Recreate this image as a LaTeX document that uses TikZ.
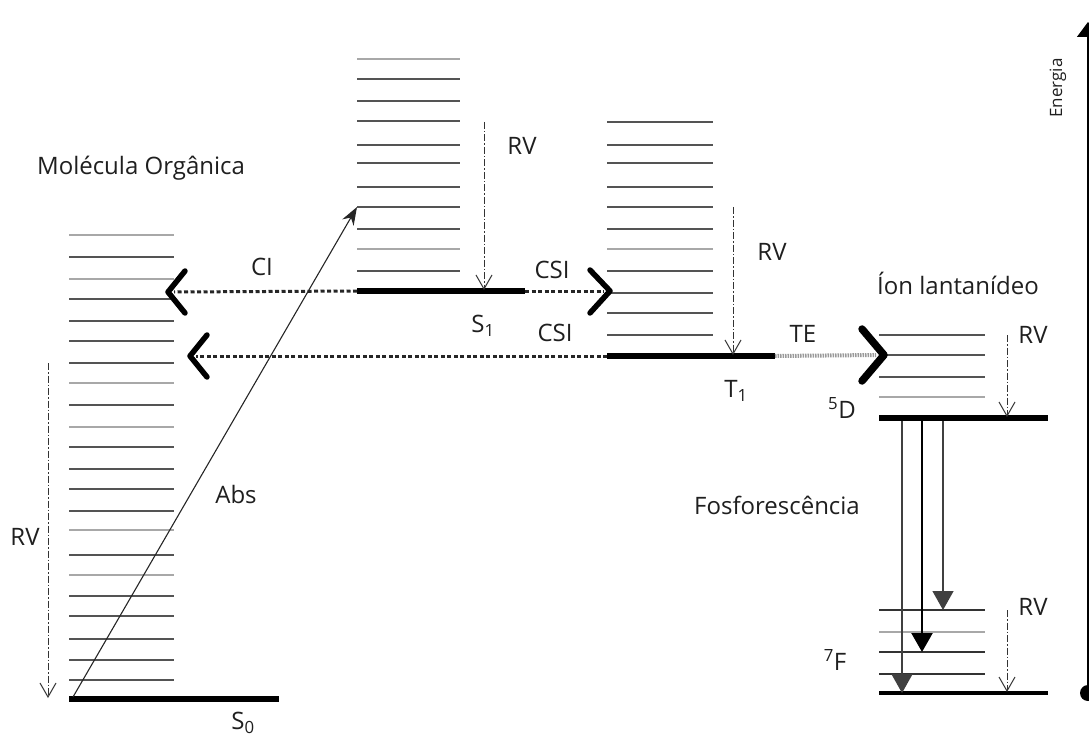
\documentclass[tikz,border=0pt]{standalone}
\usepackage{fontspec}
\setmainfont{Open Sans}
\usetikzlibrary{arrows.meta}
\definecolor{levdark}{gray}{0.33}
\definecolor{levlight}{gray}{0.66}
\definecolor{txt}{gray}{0.12}
\begin{document}
\begin{tikzpicture}[x=1pt,y=-1pt,
  lvl/.style={line width=2.6pt, draw=levdark},
  lvllight/.style={line width=2.6pt, draw=levlight},
  ground/.style={line width=5.5pt, draw=black},
  lbl/.style={font=\fontsize{24}{28}\selectfont, text=txt, inner sep=0pt},
  rv/.style={line width=1pt, draw=black!80, dash pattern=on 7pt off 2pt on 1.5pt off 2pt, -{Straight Barb[length=14pt,width=16pt,line width=1pt]}},
  isc/.style={line width=3pt, dash pattern=on 4pt off 2.5pt, draw=black!85},
  te/.style={line width=4pt, dash pattern=on 1.5pt off 1pt, draw=black!40},
  chev/.style={line width=5.5pt, line cap=round, line join=round, draw=black},
  emis/.style={line width=1.3pt, draw=black!75, -{Triangle[length=19pt,width=21pt]}},
  absarrow/.style={line width=1.1pt, draw=black!85, -{Stealth[length=18pt,width=13pt]}},
]
\useasboundingbox (0,0) rectangle (1089,738);
% ---- organic molecule S0 vibrational levels
\foreach \y in {257,299,321,341,363,405,447,469,489,511,555,596,616,639,660,680}
  \draw[lvl] (69,\y) -- (174,\y);
\foreach \y in {235,279,383,427,530,575}
  \draw[lvllight] (69,\y) -- (174,\y);
\coordinate (s0L) at (69,699);
\coordinate (s0R) at (279,699);
\draw[ground] (s0L) -- (s0R);
% ---- S1 levels
\foreach \y in {79,101,121,145,163,187,207,229,271}
  \draw[lvl] (357,\y) -- (460,\y);
\foreach \y in {59,249}
  \draw[lvllight] (357,\y) -- (460,\y);
\coordinate (s1L) at (357,291);
\coordinate (s1R) at (525,291);
\draw[ground] (s1L) -- (s1R);
% ---- T1 levels
\foreach \y in {122,145,163,187,207,229,271,293,313,335}
  \draw[lvl] (607,\y) -- (713,\y);
\foreach \y in {249}
  \draw[lvllight] (607,\y) -- (713,\y);
\coordinate (t1L) at (607,356);
\coordinate (t1R) at (775,356);
\draw[ground] (t1L) -- (t1R);
% ---- 5D levels
\foreach \y in {335,355,377}
  \draw[lvl] (879,\y) -- (985,\y);
\draw[lvllight] (879,397) -- (985,397);
\coordinate (dL) at (879,418);
\coordinate (dR) at (1048,418);
\draw[ground] (dL) -- (dR);
% ---- 7F levels
\foreach \y in {610,652,674}
  \draw[lvl, draw=black!80, line width=2.2pt] (879,\y) -- (985,\y);
\draw[lvllight, line width=2.2pt] (879,632) -- (985,632);
\coordinate (fL) at (879,693);
\coordinate (fR) at (1048,693);
\draw[line width=3.2pt] (fL) -- (fR);
% ---- absorption
\coordinate (absS) at (73,697);
\coordinate (absE) at (357,207);
\draw[absarrow] (absS) -- (absE);
% ---- chevrons and crossings
\coordinate (ciTip) at (168,292);
\coordinate (csi2Tip) at (190,356);
\coordinate (csiTip) at (610,291);
\coordinate (teTip) at (884,355);
\draw[isc] (s1L) -- ([xshift=6pt]ciTip);
\draw[isc] (t1L) -- ([xshift=6pt]csi2Tip);
\draw[isc] (s1R) -- ([xshift=-6pt]csiTip);
\draw[te] (t1R) -- ([xshift=-8pt]teTip);
\draw[chev] ([shift={(17,-21)}]ciTip) -- (ciTip) -- ([shift={(17,21)}]ciTip);
\draw[chev] ([shift={(17,-21)}]csi2Tip) -- (csi2Tip) -- ([shift={(17,21)}]csi2Tip);
\draw[chev] ([shift={(-20,-21)}]csiTip) -- (csiTip) -- ([shift={(-20,22)}]csiTip);
\draw[chev, line width=7.5pt] ([shift={(-22,-26)}]teTip) -- (teTip) -- ([shift={(-22,26)}]teTip);
% ---- vibrational relaxation
\coordinate (rvA1) at (48,363);   \coordinate (rvA2) at (48,698);
\coordinate (rvB1) at (484,122);  \coordinate (rvB2) at (484,290);
\coordinate (rvC1) at (733,207);  \coordinate (rvC2) at (733,355);
\coordinate (rvD1) at (1007,335); \coordinate (rvD2) at (1007,417);
\coordinate (rvE1) at (1007,610); \coordinate (rvE2) at (1007,692);
\draw[rv] (rvA1) -- (rvA2);
\draw[rv] (rvB1) -- (rvB2);
\draw[rv] (rvC1) -- (rvC2);
\draw[rv] (rvD1) -- (rvD2);
\draw[rv] (rvE1) -- (rvE2);
% ---- emission
\coordinate (em1s) at (943,421); \coordinate (em1e) at (943,610);
\coordinate (em2s) at (922,421); \coordinate (em2e) at (922,652);
\coordinate (em3s) at (902,421); \coordinate (em3e) at (902,693);
\draw[emis] (em1s) -- (em1e);
\draw[emis, line width=2.3pt, draw=black] (em2s) -- (em2e);
\draw[emis] (em3s) -- (em3e);
% ---- energy axis
\coordinate (eBot) at (1088,693);
\coordinate (eTop) at (1088,22);
\draw[line width=1.3pt, -{Triangle[length=15pt,width=22pt]}] (eBot) -- (eTop);
\fill (eBot) circle (8);
\node[lbl, font=\fontsize{17}{19}\selectfont, rotate=90] (en) at (1058,88) {Energia};
% ---- labels
\node[lbl] (mol) at (141,168) {Molécula Orgânica};
\node[lbl] (ci) at (262,267) {CI};
\node[lbl] (rvA) at (25,537) {RV};
\node[lbl] (abs) at (236,494) {Abs};
\node[lbl] (s0) at (243,723) {S\textsubscript{0}};
\node[lbl] (rvB) at (522,146) {RV};
\node[lbl] (csiA) at (552,270) {CSI};
\node[lbl] (s1) at (483,326) {S\textsubscript{1}};
\node[lbl] (csiB) at (555,333) {CSI};
\node[lbl] (rvC) at (772,252) {RV};
\node[lbl] (te) at (803,334) {TE};
\node[lbl] (t1) at (736,391) {T\textsubscript{1}};
\node[lbl] (ion) at (958,283) {Íon lantanídeo};
\node[lbl] (rvD) at (1033,335) {RV};
\node[lbl] (d5) at (842,408) {\textsuperscript{5}D};
\node[lbl] (fos) at (777,505) {Fosforescência};
\node[lbl] (rvE) at (1033,607) {RV};
\node[lbl] (f7) at (835,660) {\textsuperscript{7}F};
\end{tikzpicture}
\end{document}
